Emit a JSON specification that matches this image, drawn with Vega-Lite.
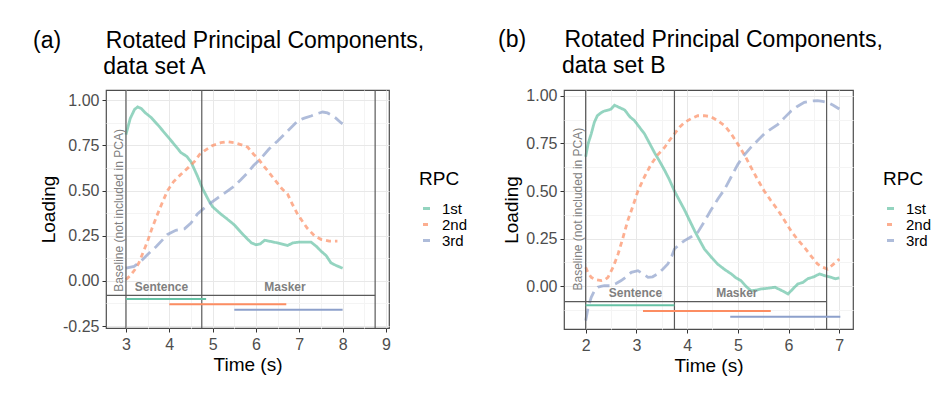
{
  "$schema": "https://vega.github.io/schema/vega-lite/v6.json",
  "padding": {"left": 32, "top": 28, "right": 5, "bottom": 5},
  "background": "white",
  "bounds": "flush",
  "spacing": 175,
  "resolve": {
    "scale": {"x": "independent", "y": "independent", "color": "independent", "strokeDash": "independent"},
    "axis": {"x": "independent", "y": "independent"},
    "legend": {"color": "independent", "strokeDash": "independent"}
  },
  "config": {
    "font": "Liberation Sans",
    "view": {"stroke": "#4d4d4d", "strokeWidth": 1.2},
    "axis": {
      "domain": false,
      "tickColor": "#333333",
      "tickSize": 4,
      "tickWidth": 1,
      "tickCount": 100,
      "labelFontSize": 16,
      "labelColor": "#4d4d4d",
      "labelFont": "Liberation Sans",
      "titleFont": "Liberation Sans",
      "titleFontSize": 19,
      "titleFontWeight": "normal",
      "titleColor": "black",
      "labelOverlap": false,
      "labelFlush": false,
      "labelBound": false
    },
    "legend": {
      "titleFont": "Liberation Sans",
      "labelFont": "Liberation Sans"
    }
  },
  "datasets": {
    "curvesA": [
      {"t":3.0,"v":0.81,"rpc":"1st"},{"t":3.1,"v":0.90,"rpc":"1st"},{"t":3.2,"v":0.95,"rpc":"1st"},{"t":3.27,"v":0.963,"rpc":"1st"},{"t":3.35,"v":0.955,"rpc":"1st"},{"t":3.45,"v":0.93,"rpc":"1st"},{"t":3.58,"v":0.905,"rpc":"1st"},{"t":3.75,"v":0.86,"rpc":"1st"},{"t":3.96,"v":0.80,"rpc":"1st"},{"t":4.1,"v":0.76,"rpc":"1st"},{"t":4.27,"v":0.71,"rpc":"1st"},{"t":4.4,"v":0.69,"rpc":"1st"},{"t":4.5,"v":0.66,"rpc":"1st"},{"t":4.65,"v":0.58,"rpc":"1st"},{"t":4.77,"v":0.51,"rpc":"1st"},{"t":4.9,"v":0.45,"rpc":"1st"},{"t":5.0,"v":0.41,"rpc":"1st"},{"t":5.19,"v":0.37,"rpc":"1st"},{"t":5.35,"v":0.34,"rpc":"1st"},{"t":5.5,"v":0.31,"rpc":"1st"},{"t":5.65,"v":0.27,"rpc":"1st"},{"t":5.81,"v":0.23,"rpc":"1st"},{"t":5.9,"v":0.21,"rpc":"1st"},{"t":6.0,"v":0.20,"rpc":"1st"},{"t":6.1,"v":0.205,"rpc":"1st"},{"t":6.2,"v":0.225,"rpc":"1st"},{"t":6.3,"v":0.22,"rpc":"1st"},{"t":6.5,"v":0.21,"rpc":"1st"},{"t":6.73,"v":0.196,"rpc":"1st"},{"t":6.85,"v":0.21,"rpc":"1st"},{"t":7.0,"v":0.215,"rpc":"1st"},{"t":7.27,"v":0.215,"rpc":"1st"},{"t":7.4,"v":0.19,"rpc":"1st"},{"t":7.5,"v":0.165,"rpc":"1st"},{"t":7.62,"v":0.14,"rpc":"1st"},{"t":7.73,"v":0.10,"rpc":"1st"},{"t":7.85,"v":0.085,"rpc":"1st"},{"t":8.0,"v":0.07,"rpc":"1st"},
      {"t":3.0,"v":0.007,"rpc":"2nd"},{"t":3.1,"v":0.03,"rpc":"2nd"},{"t":3.2,"v":0.06,"rpc":"2nd"},{"t":3.3,"v":0.10,"rpc":"2nd"},{"t":3.4,"v":0.16,"rpc":"2nd"},{"t":3.5,"v":0.22,"rpc":"2nd"},{"t":3.6,"v":0.29,"rpc":"2nd"},{"t":3.73,"v":0.37,"rpc":"2nd"},{"t":3.85,"v":0.44,"rpc":"2nd"},{"t":3.96,"v":0.50,"rpc":"2nd"},{"t":4.1,"v":0.55,"rpc":"2nd"},{"t":4.27,"v":0.59,"rpc":"2nd"},{"t":4.45,"v":0.63,"rpc":"2nd"},{"t":4.58,"v":0.66,"rpc":"2nd"},{"t":4.7,"v":0.70,"rpc":"2nd"},{"t":4.81,"v":0.72,"rpc":"2nd"},{"t":5.0,"v":0.75,"rpc":"2nd"},{"t":5.19,"v":0.765,"rpc":"2nd"},{"t":5.35,"v":0.77,"rpc":"2nd"},{"t":5.5,"v":0.765,"rpc":"2nd"},{"t":5.65,"v":0.755,"rpc":"2nd"},{"t":5.81,"v":0.74,"rpc":"2nd"},{"t":5.95,"v":0.70,"rpc":"2nd"},{"t":6.04,"v":0.68,"rpc":"2nd"},{"t":6.15,"v":0.645,"rpc":"2nd"},{"t":6.27,"v":0.61,"rpc":"2nd"},{"t":6.4,"v":0.57,"rpc":"2nd"},{"t":6.5,"v":0.54,"rpc":"2nd"},{"t":6.6,"v":0.51,"rpc":"2nd"},{"t":6.73,"v":0.48,"rpc":"2nd"},{"t":6.85,"v":0.42,"rpc":"2nd"},{"t":6.96,"v":0.37,"rpc":"2nd"},{"t":7.1,"v":0.32,"rpc":"2nd"},{"t":7.19,"v":0.29,"rpc":"2nd"},{"t":7.35,"v":0.25,"rpc":"2nd"},{"t":7.5,"v":0.23,"rpc":"2nd"},{"t":7.69,"v":0.22,"rpc":"2nd"},{"t":7.88,"v":0.22,"rpc":"2nd"},
      {"t":3.0,"v":0.07,"rpc":"3rd"},{"t":3.19,"v":0.08,"rpc":"3rd"},{"t":3.35,"v":0.11,"rpc":"3rd"},{"t":3.5,"v":0.146,"rpc":"3rd"},{"t":3.7,"v":0.19,"rpc":"3rd"},{"t":3.96,"v":0.257,"rpc":"3rd"},{"t":4.15,"v":0.28,"rpc":"3rd"},{"t":4.35,"v":0.288,"rpc":"3rd"},{"t":4.5,"v":0.32,"rpc":"3rd"},{"t":4.65,"v":0.37,"rpc":"3rd"},{"t":4.77,"v":0.396,"rpc":"3rd"},{"t":4.95,"v":0.43,"rpc":"3rd"},{"t":5.12,"v":0.46,"rpc":"3rd"},{"t":5.3,"v":0.49,"rpc":"3rd"},{"t":5.5,"v":0.525,"rpc":"3rd"},{"t":5.65,"v":0.56,"rpc":"3rd"},{"t":5.81,"v":0.60,"rpc":"3rd"},{"t":5.95,"v":0.64,"rpc":"3rd"},{"t":6.12,"v":0.68,"rpc":"3rd"},{"t":6.3,"v":0.73,"rpc":"3rd"},{"t":6.5,"v":0.775,"rpc":"3rd"},{"t":6.73,"v":0.83,"rpc":"3rd"},{"t":6.96,"v":0.885,"rpc":"3rd"},{"t":7.1,"v":0.90,"rpc":"3rd"},{"t":7.27,"v":0.913,"rpc":"3rd"},{"t":7.4,"v":0.925,"rpc":"3rd"},{"t":7.54,"v":0.935,"rpc":"3rd"},{"t":7.65,"v":0.93,"rpc":"3rd"},{"t":7.73,"v":0.92,"rpc":"3rd"},{"t":7.85,"v":0.90,"rpc":"3rd"},{"t":7.96,"v":0.876,"rpc":"3rd"},{"t":8.0,"v":0.87,"rpc":"3rd"}
    ],
    "curvesB": [
      {"t":2.0,"v":0.68,"rpc":"1st"},{"t":2.05,"v":0.75,"rpc":"1st"},{"t":2.11,"v":0.80,"rpc":"1st"},{"t":2.17,"v":0.86,"rpc":"1st"},{"t":2.23,"v":0.895,"rpc":"1st"},{"t":2.3,"v":0.91,"rpc":"1st"},{"t":2.37,"v":0.92,"rpc":"1st"},{"t":2.45,"v":0.925,"rpc":"1st"},{"t":2.5,"v":0.93,"rpc":"1st"},{"t":2.57,"v":0.95,"rpc":"1st"},{"t":2.65,"v":0.94,"rpc":"1st"},{"t":2.77,"v":0.925,"rpc":"1st"},{"t":2.87,"v":0.89,"rpc":"1st"},{"t":2.96,"v":0.87,"rpc":"1st"},{"t":3.06,"v":0.835,"rpc":"1st"},{"t":3.16,"v":0.80,"rpc":"1st"},{"t":3.26,"v":0.75,"rpc":"1st"},{"t":3.36,"v":0.70,"rpc":"1st"},{"t":3.46,"v":0.655,"rpc":"1st"},{"t":3.56,"v":0.607,"rpc":"1st"},{"t":3.65,"v":0.56,"rpc":"1st"},{"t":3.75,"v":0.50,"rpc":"1st"},{"t":3.85,"v":0.45,"rpc":"1st"},{"t":3.95,"v":0.40,"rpc":"1st"},{"t":4.05,"v":0.345,"rpc":"1st"},{"t":4.15,"v":0.29,"rpc":"1st"},{"t":4.25,"v":0.24,"rpc":"1st"},{"t":4.34,"v":0.196,"rpc":"1st"},{"t":4.47,"v":0.155,"rpc":"1st"},{"t":4.6,"v":0.117,"rpc":"1st"},{"t":4.73,"v":0.09,"rpc":"1st"},{"t":4.87,"v":0.065,"rpc":"1st"},{"t":4.96,"v":0.045,"rpc":"1st"},{"t":5.06,"v":0.03,"rpc":"1st"},{"t":5.16,"v":0.0,"rpc":"1st"},{"t":5.26,"v":-0.023,"rpc":"1st"},{"t":5.36,"v":-0.02,"rpc":"1st"},{"t":5.46,"v":-0.014,"rpc":"1st"},{"t":5.6,"v":-0.01,"rpc":"1st"},{"t":5.73,"v":-0.005,"rpc":"1st"},{"t":5.85,"v":-0.02,"rpc":"1st"},{"t":5.99,"v":-0.04,"rpc":"1st"},{"t":6.08,"v":-0.015,"rpc":"1st"},{"t":6.18,"v":0.012,"rpc":"1st"},{"t":6.28,"v":0.02,"rpc":"1st"},{"t":6.38,"v":0.04,"rpc":"1st"},{"t":6.5,"v":0.05,"rpc":"1st"},{"t":6.61,"v":0.065,"rpc":"1st"},{"t":6.72,"v":0.055,"rpc":"1st"},{"t":6.84,"v":0.047,"rpc":"1st"},{"t":6.92,"v":0.04,"rpc":"1st"},{"t":7.0,"v":0.044,"rpc":"1st"},
      {"t":2.0,"v":0.10,"rpc":"2nd"},{"t":2.05,"v":0.07,"rpc":"2nd"},{"t":2.11,"v":0.047,"rpc":"2nd"},{"t":2.2,"v":0.035,"rpc":"2nd"},{"t":2.31,"v":0.03,"rpc":"2nd"},{"t":2.38,"v":0.035,"rpc":"2nd"},{"t":2.44,"v":0.047,"rpc":"2nd"},{"t":2.54,"v":0.10,"rpc":"2nd"},{"t":2.64,"v":0.17,"rpc":"2nd"},{"t":2.73,"v":0.25,"rpc":"2nd"},{"t":2.83,"v":0.345,"rpc":"2nd"},{"t":2.93,"v":0.42,"rpc":"2nd"},{"t":3.03,"v":0.50,"rpc":"2nd"},{"t":3.16,"v":0.575,"rpc":"2nd"},{"t":3.29,"v":0.64,"rpc":"2nd"},{"t":3.42,"v":0.69,"rpc":"2nd"},{"t":3.56,"v":0.73,"rpc":"2nd"},{"t":3.65,"v":0.765,"rpc":"2nd"},{"t":3.75,"v":0.80,"rpc":"2nd"},{"t":3.85,"v":0.835,"rpc":"2nd"},{"t":3.95,"v":0.86,"rpc":"2nd"},{"t":4.08,"v":0.88,"rpc":"2nd"},{"t":4.21,"v":0.895,"rpc":"2nd"},{"t":4.34,"v":0.895,"rpc":"2nd"},{"t":4.47,"v":0.89,"rpc":"2nd"},{"t":4.6,"v":0.87,"rpc":"2nd"},{"t":4.74,"v":0.843,"rpc":"2nd"},{"t":4.87,"v":0.80,"rpc":"2nd"},{"t":5.0,"v":0.746,"rpc":"2nd"},{"t":5.13,"v":0.69,"rpc":"2nd"},{"t":5.26,"v":0.624,"rpc":"2nd"},{"t":5.39,"v":0.56,"rpc":"2nd"},{"t":5.52,"v":0.50,"rpc":"2nd"},{"t":5.65,"v":0.45,"rpc":"2nd"},{"t":5.79,"v":0.40,"rpc":"2nd"},{"t":5.92,"v":0.345,"rpc":"2nd"},{"t":6.05,"v":0.29,"rpc":"2nd"},{"t":6.18,"v":0.245,"rpc":"2nd"},{"t":6.31,"v":0.205,"rpc":"2nd"},{"t":6.44,"v":0.16,"rpc":"2nd"},{"t":6.57,"v":0.117,"rpc":"2nd"},{"t":6.67,"v":0.10,"rpc":"2nd"},{"t":6.77,"v":0.09,"rpc":"2nd"},{"t":6.88,"v":0.115,"rpc":"2nd"},{"t":7.0,"v":0.143,"rpc":"2nd"},
      {"t":2.0,"v":-0.18,"rpc":"3rd"},{"t":2.05,"v":-0.11,"rpc":"3rd"},{"t":2.11,"v":-0.058,"rpc":"3rd"},{"t":2.17,"v":-0.025,"rpc":"3rd"},{"t":2.24,"v":-0.005,"rpc":"3rd"},{"t":2.3,"v":0.0,"rpc":"3rd"},{"t":2.37,"v":0.003,"rpc":"3rd"},{"t":2.5,"v":0.003,"rpc":"3rd"},{"t":2.6,"v":0.015,"rpc":"3rd"},{"t":2.7,"v":0.03,"rpc":"3rd"},{"t":2.8,"v":0.05,"rpc":"3rd"},{"t":2.9,"v":0.073,"rpc":"3rd"},{"t":3.03,"v":0.082,"rpc":"3rd"},{"t":3.13,"v":0.065,"rpc":"3rd"},{"t":3.23,"v":0.047,"rpc":"3rd"},{"t":3.32,"v":0.05,"rpc":"3rd"},{"t":3.42,"v":0.065,"rpc":"3rd"},{"t":3.52,"v":0.09,"rpc":"3rd"},{"t":3.62,"v":0.117,"rpc":"3rd"},{"t":3.7,"v":0.16,"rpc":"3rd"},{"t":3.75,"v":0.196,"rpc":"3rd"},{"t":3.85,"v":0.22,"rpc":"3rd"},{"t":3.95,"v":0.24,"rpc":"3rd"},{"t":4.08,"v":0.26,"rpc":"3rd"},{"t":4.21,"v":0.283,"rpc":"3rd"},{"t":4.34,"v":0.34,"rpc":"3rd"},{"t":4.47,"v":0.40,"rpc":"3rd"},{"t":4.6,"v":0.455,"rpc":"3rd"},{"t":4.74,"v":0.51,"rpc":"3rd"},{"t":4.87,"v":0.575,"rpc":"3rd"},{"t":5.0,"v":0.64,"rpc":"3rd"},{"t":5.13,"v":0.69,"rpc":"3rd"},{"t":5.26,"v":0.73,"rpc":"3rd"},{"t":5.39,"v":0.765,"rpc":"3rd"},{"t":5.52,"v":0.80,"rpc":"3rd"},{"t":5.65,"v":0.825,"rpc":"3rd"},{"t":5.79,"v":0.85,"rpc":"3rd"},{"t":5.92,"v":0.885,"rpc":"3rd"},{"t":6.05,"v":0.92,"rpc":"3rd"},{"t":6.18,"v":0.945,"rpc":"3rd"},{"t":6.31,"v":0.965,"rpc":"3rd"},{"t":6.44,"v":0.972,"rpc":"3rd"},{"t":6.57,"v":0.974,"rpc":"3rd"},{"t":6.67,"v":0.97,"rpc":"3rd"},{"t":6.77,"v":0.965,"rpc":"3rd"},{"t":6.88,"v":0.95,"rpc":"3rd"},{"t":7.0,"v":0.93,"rpc":"3rd"}
    ],
    "vlinesA": [{"t":3.0},{"t":4.75},{"t":8.75}],
    "vlinesB": [{"t":2.0},{"t":3.75},{"t":6.75}],
    "hlineA": [{"t":2.4,"t2":8.75,"v":-0.08}],
    "hlineB": [{"t":1.5,"t2":6.75,"v":-0.08}],
    "segA": [
      {"t":3.0,"t2":4.85,"v":-0.1,"rpc":"1st"},
      {"t":4.0,"t2":6.7,"v":-0.13,"rpc":"2nd"},
      {"t":5.5,"t2":8.0,"v":-0.16,"rpc":"3rd"}
    ],
    "segB": [
      {"t":2.0,"t2":3.75,"v":-0.1,"rpc":"1st"},
      {"t":3.13,"t2":5.65,"v":-0.13,"rpc":"2nd"},
      {"t":4.85,"t2":7.02,"v":-0.16,"rpc":"3rd"}
    ],
    "phaseA": [
      {"t":3.82,"v":-0.058,"label":"Sentence"},
      {"t":6.67,"v":-0.058,"label":"Masker"}
    ],
    "phaseB": [
      {"t":2.98,"v":-0.055,"label":"Sentence"},
      {"t":4.98,"v":-0.055,"label":"Masker"}
    ],
    "baseA": [{"t":2.84,"v":0.39,"label":"Baseline (not included in PCA)"}],
    "baseB": [{"t":1.84,"v":0.405,"label":"Baseline (not included in PCA)"}]
  },
  "hconcat": [
    {
      "width": 283,
      "height": 238,
      "title": {
        "text": ["(a)\u00a0\u00a0\u00a0\u00a0\u00a0\u00a0\u00a0Rotated Principal Components,", "\u200b\u00a0\u00a0\u00a0\u00a0\u00a0\u00a0\u00a0\u00a0\u00a0\u00a0\u00a0data set A"],
        "anchor": "start",
        "frame": "group",
        "dx": -73,
        "fontSize": 23,
        "fontWeight": "normal",
        "lineHeight": 26,
        "offset": 10,
        "color": "black",
        "font": "Liberation Sans"
      },
      "layer": [
        {
          "data": {"name": "curvesA"},
          "mark": {"type": "line", "strokeWidth": 2.8, "opacity": 0.7},
          "encoding": {
            "x": {
              "field": "t", "type": "quantitative",
              "scale": {"domain": [2.54, 9.07], "nice": false, "zero": false},
              "axis": {
                "title": "Time (s)",
                "values": [3, 3.5, 4, 4.5, 5, 5.5, 6, 6.5, 7, 7.5, 8, 8.5, 9],
                "labelExpr": "datum.value % 1 === 0 ? format(datum.value, 'd') : ''",
                "grid": true,
                "gridColor": {"condition": {"test": "datum.value % 1 !== 0", "value": "#f4f4f4"}, "value": "#e8e8e8"},
                "tickOpacity": {"condition": {"test": "datum.value % 1 !== 0", "value": 0}, "value": 1},
                "labelPadding": 4,
                "titlePadding": 3
              }
            },
            "y": {
              "field": "v", "type": "quantitative",
              "scale": {"domain": [-0.261, 1.057], "nice": false, "zero": false},
              "axis": {
                "title": "Loading",
                "values": [-0.25, -0.125, 0, 0.125, 0.25, 0.375, 0.5, 0.625, 0.75, 0.875, 1],
                "labelExpr": "abs(datum.value*4 - round(datum.value*4)) < 0.01 ? replace(format(datum.value, '.2f'), '\u2212', '-') : ''",
                "grid": true,
                "gridColor": {"condition": {"test": "abs(datum.value*4 - round(datum.value*4)) > 0.01", "value": "#f4f4f4"}, "value": "#e8e8e8"},
                "tickOpacity": {"condition": {"test": "abs(datum.value*4 - round(datum.value*4)) > 0.01", "value": 0}, "value": 1},
                "labelPadding": 3,
                "titlePadding": 4
              }
            },
            "color": {
              "field": "rpc", "type": "nominal",
              "scale": {"domain": ["1st", "2nd", "3rd"], "range": ["#66c2a5", "#fc8d62", "#8da0cb"]},
              "legend": {
                "orient": "none", "legendX": 313, "legendY": 80,
                "title": "RPC", "titleFontSize": 19, "titleFontWeight": "normal", "titleColor": "black",
                "labelFontSize": 15, "labelColor": "black", "symbolType": "stroke", "symbolStrokeWidth": 3,
                "symbolSize": 49, "rowPadding": -1.5, "symbolOpacity": 0.7, "titlePadding": 12, "labelOffset": 8, "padding": 0
              }
            },
            "strokeDash": {
              "field": "rpc", "type": "nominal",
              "scale": {"domain": ["1st", "2nd", "3rd"], "range": [[1, 0], [5, 4], [12, 6]]},
              "legend": {
                "orient": "none", "legendX": 313, "legendY": 80,
                "title": "RPC", "titleFontSize": 19, "titleFontWeight": "normal", "titleColor": "black",
                "labelFontSize": 15, "labelColor": "black", "symbolType": "stroke", "symbolStrokeWidth": 3,
                "symbolSize": 49, "rowPadding": -1.5, "symbolOpacity": 0.7, "titlePadding": 12, "labelOffset": 8, "padding": 0
              }
            }
          }
        },
        {
          "data": {"name": "vlinesA"},
          "mark": {"type": "rule", "color": "#5a5a5a", "strokeWidth": 1.2},
          "encoding": {"x": {"field": "t", "type": "quantitative"}}
        },
        {
          "data": {"name": "hlineA"},
          "mark": {"type": "rule", "color": "#5a5a5a", "strokeWidth": 1.2, "clip": true},
          "encoding": {
            "x": {"field": "t", "type": "quantitative"},
            "x2": {"field": "t2"},
            "y": {"field": "v", "type": "quantitative"}
          }
        },
        {
          "data": {"name": "segA"},
          "mark": {"type": "rule", "strokeWidth": 2},
          "encoding": {
            "x": {"field": "t", "type": "quantitative"},
            "x2": {"field": "t2"},
            "y": {"field": "v", "type": "quantitative"},
            "color": {"field": "rpc", "type": "nominal"}
          }
        },
        {
          "data": {"name": "phaseA"},
          "mark": {"type": "text", "fontSize": 12, "fontWeight": "bold", "color": "#808080", "align": "center", "baseline": "alphabetic"},
          "encoding": {
            "x": {"field": "t", "type": "quantitative"},
            "y": {"field": "v", "type": "quantitative"},
            "text": {"field": "label"}
          }
        },
        {
          "data": {"name": "baseA"},
          "mark": {"type": "text", "fontSize": 12, "color": "#808080", "align": "center", "baseline": "middle", "angle": 270},
          "encoding": {
            "x": {"field": "t", "type": "quantitative"},
            "y": {"field": "v", "type": "quantitative"},
            "text": {"field": "label"}
          }
        }
      ]
    },
    {
      "width": 289,
      "height": 239,
      "title": {
        "text": ["(b)\u00a0\u00a0\u00a0\u00a0\u00a0\u00a0Rotated Principal Components,", "\u200b\u00a0\u00a0\u00a0\u00a0\u00a0\u00a0\u00a0\u00a0\u00a0\u00a0data set B"],
        "anchor": "start",
        "frame": "group",
        "dx": -66,
        "fontSize": 23,
        "fontWeight": "normal",
        "lineHeight": 26,
        "offset": 10,
        "color": "black",
        "font": "Liberation Sans"
      },
      "layer": [
        {
          "data": {"name": "curvesB"},
          "mark": {"type": "line", "strokeWidth": 2.8, "opacity": 0.7},
          "encoding": {
            "x": {
              "field": "t", "type": "quantitative",
              "scale": {"domain": [1.573, 7.27], "nice": false, "zero": false},
              "axis": {
                "title": "Time (s)",
                "values": [2, 2.5, 3, 3.5, 4, 4.5, 5, 5.5, 6, 6.5, 7],
                "labelExpr": "datum.value % 1 === 0 ? format(datum.value, 'd') : ''",
                "grid": true,
                "gridColor": {"condition": {"test": "datum.value % 1 !== 0", "value": "#f4f4f4"}, "value": "#e8e8e8"},
                "tickOpacity": {"condition": {"test": "datum.value % 1 !== 0", "value": 0}, "value": 1},
                "labelPadding": 4,
                "titlePadding": 3
              }
            },
            "y": {
              "field": "v", "type": "quantitative",
              "scale": {"domain": [-0.224, 1.03], "nice": false, "zero": false},
              "axis": {
                "title": "Loading",
                "values": [-0.125, 0, 0.125, 0.25, 0.375, 0.5, 0.625, 0.75, 0.875, 1],
                "labelExpr": "abs(datum.value*4 - round(datum.value*4)) < 0.01 ? replace(format(datum.value, '.2f'), '\u2212', '-') : ''",
                "grid": true,
                "gridColor": {"condition": {"test": "abs(datum.value*4 - round(datum.value*4)) > 0.01", "value": "#f4f4f4"}, "value": "#e8e8e8"},
                "tickOpacity": {"condition": {"test": "abs(datum.value*4 - round(datum.value*4)) > 0.01", "value": 0}, "value": 1},
                "labelPadding": 3,
                "titlePadding": 4
              }
            },
            "color": {
              "field": "rpc", "type": "nominal",
              "scale": {"domain": ["1st", "2nd", "3rd"], "range": ["#66c2a5", "#fc8d62", "#8da0cb"]},
              "legend": {
                "orient": "none", "legendX": 319, "legendY": 80,
                "title": "RPC", "titleFontSize": 19, "titleFontWeight": "normal", "titleColor": "black",
                "labelFontSize": 15, "labelColor": "black", "symbolType": "stroke", "symbolStrokeWidth": 3,
                "symbolSize": 49, "rowPadding": -1.5, "symbolOpacity": 0.7, "titlePadding": 12, "labelOffset": 8, "padding": 0
              }
            },
            "strokeDash": {
              "field": "rpc", "type": "nominal",
              "scale": {"domain": ["1st", "2nd", "3rd"], "range": [[1, 0], [5, 4], [12, 6]]},
              "legend": {
                "orient": "none", "legendX": 319, "legendY": 80,
                "title": "RPC", "titleFontSize": 19, "titleFontWeight": "normal", "titleColor": "black",
                "labelFontSize": 15, "labelColor": "black", "symbolType": "stroke", "symbolStrokeWidth": 3,
                "symbolSize": 49, "rowPadding": -1.5, "symbolOpacity": 0.7, "titlePadding": 12, "labelOffset": 8, "padding": 0
              }
            }
          }
        },
        {
          "data": {"name": "vlinesB"},
          "mark": {"type": "rule", "color": "#5a5a5a", "strokeWidth": 1.2},
          "encoding": {"x": {"field": "t", "type": "quantitative"}}
        },
        {
          "data": {"name": "hlineB"},
          "mark": {"type": "rule", "color": "#5a5a5a", "strokeWidth": 1.2, "clip": true},
          "encoding": {
            "x": {"field": "t", "type": "quantitative"},
            "x2": {"field": "t2"},
            "y": {"field": "v", "type": "quantitative"}
          }
        },
        {
          "data": {"name": "segB"},
          "mark": {"type": "rule", "strokeWidth": 2},
          "encoding": {
            "x": {"field": "t", "type": "quantitative"},
            "x2": {"field": "t2"},
            "y": {"field": "v", "type": "quantitative"},
            "color": {"field": "rpc", "type": "nominal"}
          }
        },
        {
          "data": {"name": "phaseB"},
          "mark": {"type": "text", "fontSize": 12, "fontWeight": "bold", "color": "#808080", "align": "center", "baseline": "alphabetic"},
          "encoding": {
            "x": {"field": "t", "type": "quantitative"},
            "y": {"field": "v", "type": "quantitative"},
            "text": {"field": "label"}
          }
        },
        {
          "data": {"name": "baseB"},
          "mark": {"type": "text", "fontSize": 12, "color": "#808080", "align": "center", "baseline": "middle", "angle": 270},
          "encoding": {
            "x": {"field": "t", "type": "quantitative"},
            "y": {"field": "v", "type": "quantitative"},
            "text": {"field": "label"}
          }
        }
      ]
    }
  ]
}
